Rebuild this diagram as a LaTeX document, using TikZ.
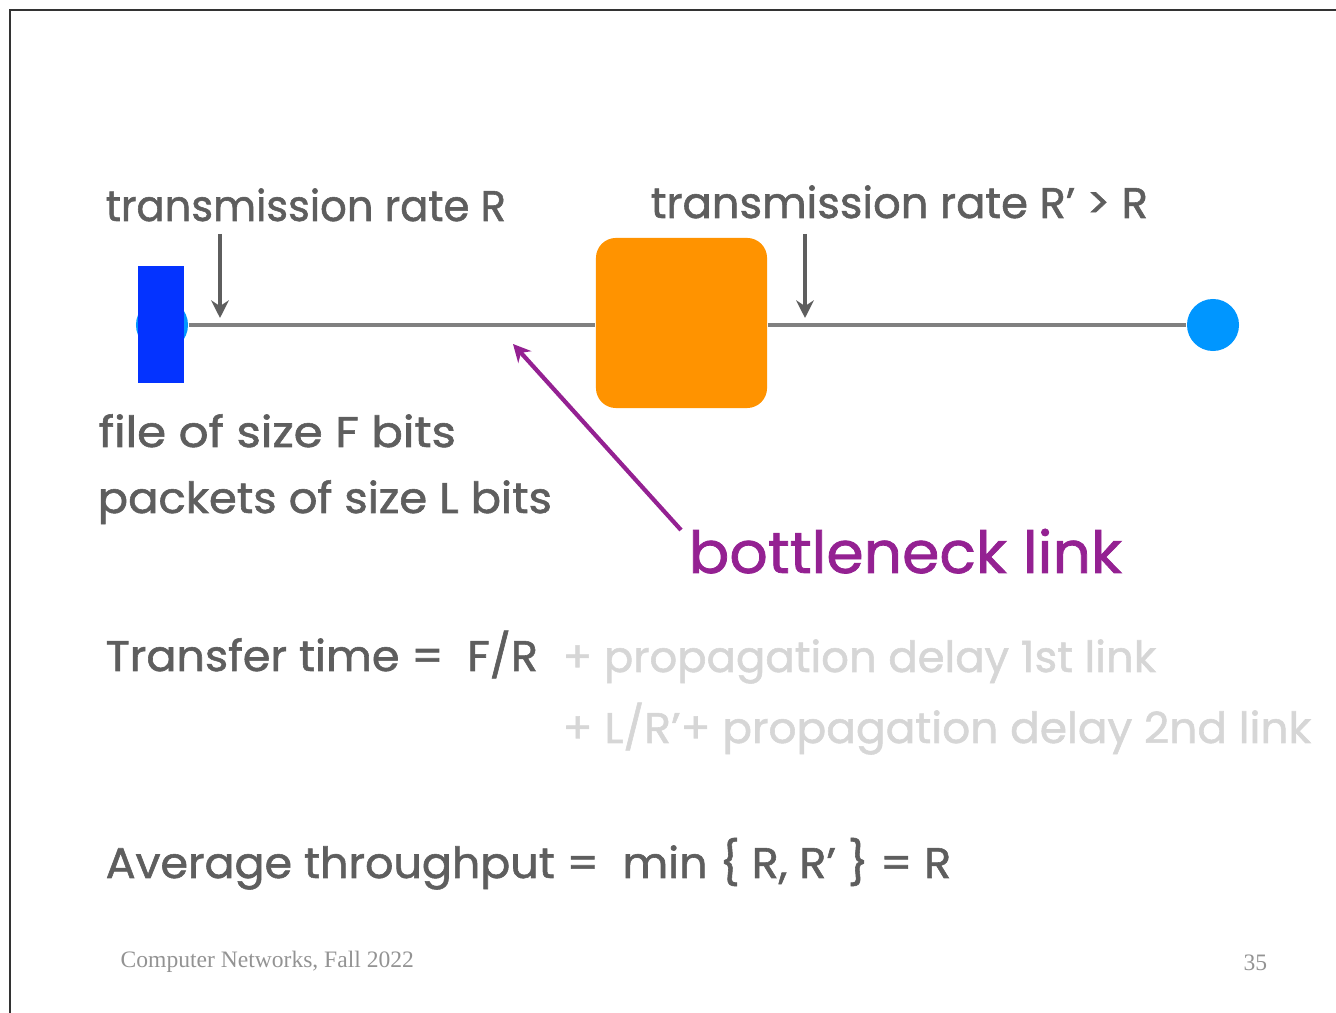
\documentclass[tikz,border=0pt]{standalone}
\usepackage{fontspec}
\setmainfont{Poppins}[FakeBold=1.3]
\newfontfamily\footfont{Liberation Serif}
\usetikzlibrary{arrows.meta}
\definecolor{txtgray}{RGB}{94,94,94}
\definecolor{faintgray}{RGB}{214,214,214}
\definecolor{linkgray}{RGB}{128,128,128}
\definecolor{neckpurple}{RGB}{148,33,146}
\definecolor{routerorange}{RGB}{255,147,0}
\definecolor{fileblue}{RGB}{4,51,255}
\definecolor{hostblue}{RGB}{0,150,255}
% stretch a text to a given width, keep its height
\newcommand{\fitto}[2]{\resizebox{#1}{\height}{#2}}
\begin{document}
\begin{tikzpicture}[x=0.01cm,y=-0.01cm,
  txt/.style={anchor=base west,inner sep=0pt,text=txtgray,font=\fontsize{12.2}{14}\selectfont},
  faint/.style={txt,text=faintgray},
  foot/.style={anchor=base west,inner sep=0pt,text=gray!85,font=\footfont\fontsize{6.7}{8}\selectfont},
  host/.style={circle,fill=hostblue,minimum size=0.52cm,inner sep=0pt},
  link/.style={draw=linkgray,line width=1pt},
  ratearrow/.style={draw=txtgray,line width=1.3pt,-{Stealth[length=5pt,width=5pt]}}]
\useasboundingbox (0,0) rectangle (1336,1013);
\draw[black!80,line width=0.4pt] (10,1013) -- (10,10) -- (1336,10);

% hosts, file and router
\node[host] (lhost) at (162,325) {};
\node[fill=fileblue,minimum width=0.46cm,minimum height=1.17cm,inner sep=0pt] (file) at (161,324.5) {};
\node[fill=routerorange,rounded corners=0.2cm,minimum width=1.71cm,minimum height=1.70cm,inner sep=0pt] (router) at (681.5,323) {};
\node[host] (rhost) at (1213,325) {};
\draw[link] (lhost) -- (router.west |- lhost);
\draw[link] (router.east |- rhost) -- (rhost);

% rate labels
\node[txt] (rate1) at (105,221) {\fitto{4cm}{transmission rate R}};
\node[txt] (rate2) at (650,218) {\fitto{4.97cm}{transmission rate R’ > R}};
\coordinate (r1top) at (220,234);
\coordinate (r1tip) at (220,318);
\coordinate (r2top) at (805,234);
\coordinate (r2tip) at (805,318);
\draw[ratearrow] (r1top) -- (r1tip);
\draw[ratearrow] (r2top) -- (r2tip);

\node[txt] (fsize) at (98,447) {\fitto{3.57cm}{file of size F bits}};
\node[txt] (psize) at (97,513) {\fitto{4.54cm}{packets of size L bits}};

% bottleneck
\node[txt,text=neckpurple,font=\fontsize{16.5}{20}\selectfont] (neck) at (688,573) {\fitto{4.33cm}{bottleneck link}};
\coordinate (necktail) at (681,530);
\coordinate (necktip) at (513,344);
\draw[draw=neckpurple,line width=1.2pt,-{Stealth[length=5pt,width=5pt]}] (necktail) -- (necktip);

% formulas
\node[txt] (ttime) at (105,671) {\fitto{4.32cm}{Transfer time =\ \ F/R}};
\node[faint] (prop1) at (562,672) {\fitto{5.93cm}{+ propagation delay 1st link}};
\node[faint] (prop2) at (562,743) {\fitto{7.48cm}{+ L/R’+ propagation delay 2nd link}};
\node[txt] (thru) at (105,878) {\fitto{8.45cm}{Average throughput =\ \ min \{ R, R’ \} = R}};

\node[foot] (course) at (120,967) {Computer Networks, Fall 2022};
\node[foot] (page) at (1243,970) {35};
\end{tikzpicture}
\end{document}
